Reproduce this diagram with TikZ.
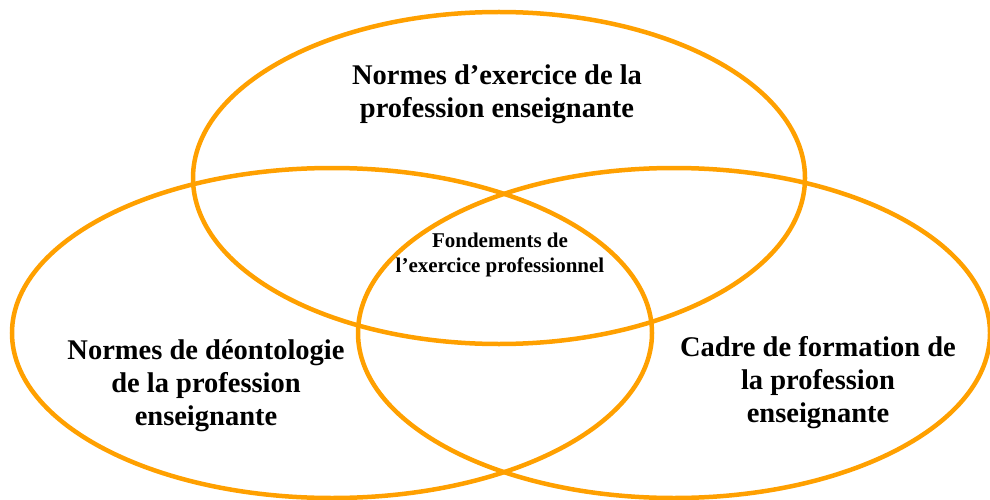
\documentclass[tikz,border=0pt]{standalone}
\usepackage{fontspec}
\setmainfont{Liberation Serif}
\usetikzlibrary{shapes.geometric}
\definecolor{ringorange}{RGB}{255,160,0}

\begin{document}
\begin{tikzpicture}[x=1pt, y=1pt, ring/.style={ellipse, draw=ringorange, line width=4.5pt, inner sep=0pt},
                    label text/.style={align=center, font=\bfseries\fontsize{28.5}{33}\selectfont}]
                \useasboundingbox (0,0) rectangle (990,499);
                \node [ring, minimum width=612pt, minimum height=332pt] (norms) at (499,321) {};
                \node [ring, minimum width=640pt, minimum height=330pt] (ethics) at (332,166) {};
                \node [ring, minimum width=632pt, minimum height=330pt] (training) at (674,166) {};
                \node [label text] (normstext) at (497,405) {Normes d’exercice de la\\profession enseignante};
                \node [label text] (ethicstext) at (206,113) {Normes de déontologie\\de la profession\\enseignante};
                \node [label text] (trainingtext) at (818,116) {Cadre de formation de\\la profession\\enseignante};
                \node [align=center, font=\bfseries\fontsize{21}{25}\selectfont] (core) at (500,244) {Fondements de\\l’exercice professionnel};
            \end{tikzpicture}
\end{document}
